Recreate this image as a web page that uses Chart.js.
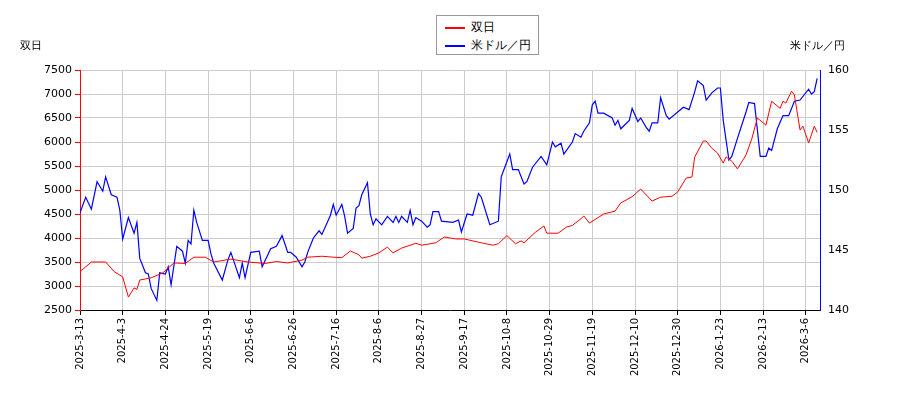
<!DOCTYPE html>
<html><head><meta charset="utf-8">
<script src="https://cdn.jsdelivr.net/npm/chart.js@4"></script>
<style>
body{margin:0;background:#fff;font-family:"DejaVu Sans",sans-serif;}
#wrap{position:relative;width:900px;height:400px;}
.lbl{position:absolute;font-size:11px;color:#000;}
#leg{position:absolute;left:436px;top:15px;width:103px;height:40px;border:1px solid #999;background:#fff;font-size:12px;box-sizing:border-box;}
#leg div{position:absolute;left:8px;height:16px;line-height:16px;}
#leg span{display:inline-block;width:20px;height:2px;vertical-align:middle;margin-right:6px;}
</style></head><body>
<div id="wrap">
<canvas id="c" width="900" height="400"></canvas>
<div class="lbl" style="left:20px;top:38px;">双日</div>
<div class="lbl" style="left:790px;top:38px;">米ドル／円</div>
<div id="leg"><div style="top:3px"><span style="background:#f00"></span>双日</div><div style="top:21px"><span style="background:#00f"></span>米ドル／円</div></div>
</div>
<script>
const tickLabels=["2025-3-13","2025-4-3","2025-4-24","2025-5-19","2025-6-6","2025-6-26","2025-7-16","2025-8-6","2025-8-27","2025-9-17","2025-10-8","2025-10-29","2025-11-19","2025-12-10","2025-12-30","2026-1-23","2026-2-13","2026-3-6"];
const redDay=[0,4,9,12,15,17,19,20,21,25,29,33,37,40,44,47,53,59,65,69,73,78,80,85,89,92,95,98,99,102,105,108,110,113,118,120,125,128,132,135,141,145,147,150,153,155,156,160,163,164,168,171,173,174,176,177,179,184,188,190,194,197,201,204,208,210,213,215,216,219,220,222,224,226,227,229,231,234,236,238,241,243,246,247,248,250,251,253,254,256,258,259];
const redVal=[3300,3500,3500,3300,3190,2770,2960,2930,3125,3170,3270,3480,3470,3600,3600,3500,3560,3500,3470,3510,3480,3540,3600,3620,3600,3590,3730,3650,3580,3620,3690,3810,3690,3790,3890,3850,3900,4020,3980,3980,3900,3850,3880,4050,3880,3940,3900,4120,4250,4100,4100,4230,4260,4310,4400,4460,4310,4500,4560,4730,4860,5020,4770,4850,4870,4960,5250,5270,5690,6020,6020,5870,5770,5560,5690,5600,5440,5730,6060,6500,6350,6850,6700,6850,6810,7060,6980,6250,6330,5980,6330,6200];
const blueDay=[0,2,4,6,8,9,11,13,14,15,17,19,20,21,23,24,25,27,28,30,31,32,34,36,37,38,39,40,41,43,45,46,47,50,52,53,56,57,58,60,63,64,67,69,71,73,74,76,78,79,80,82,84,85,88,89,90,92,93,94,96,97,98,99,101,102,103,104,106,108,110,111,112,113,115,116,117,118,120,122,123,124,126,127,131,133,134,136,138,140,141,144,147,148,151,152,154,156,157,159,162,164,166,167,169,170,173,174,176,177,179,180,181,182,184,187,188,189,190,193,194,196,197,199,200,201,203,204,206,207,210,212,214,216,217,219,220,222,224,225,226,228,229,231,234,235,237,239,241,242,243,245,247,249,251,253,256,257,258,259];
const blueVal=[148.1,149.4,148.4,150.7,149.9,151.1,149.6,149.4,148.3,145.9,147.7,146.4,147.3,144.3,143.1,143,141.8,140.8,143.1,143,143.6,142.1,145.3,144.9,143.9,145.8,145.5,148.3,147.3,145.8,145.8,144.7,143.9,142.5,144.2,144.8,142.7,143.9,142.7,144.8,144.9,143.6,145.1,145.3,146.2,144.8,144.8,144.4,143.6,144,144.8,146,146.6,146.3,147.9,148.8,147.9,148.8,147.8,146.4,146.8,148.5,148.7,149.6,150.6,148,147.1,147.6,147.1,147.8,147.3,147.8,147.3,147.8,147.3,148.3,147.1,147.7,147.4,146.9,147.1,148.2,148.2,147.4,147.3,147.5,146.5,148,147.9,149.7,149.4,147.1,147.4,151.1,153,151.7,151.7,150.5,150.7,151.9,152.8,152.1,154,153.6,153.9,153,154,154.7,154.4,154.9,155.6,157.1,157.4,156.4,156.4,156,155.4,155.8,155.1,155.8,156.8,155.7,156,155.2,154.9,155.6,155.6,157.7,156.2,155.9,156.5,156.9,156.7,158.2,159.1,158.7,157.5,158.1,158.5,158.5,155.8,152.5,152.8,154.3,156.5,157.3,157.2,152.8,152.8,153.5,153.3,155.1,156.2,156.2,157.4,157.5,158.4,158,158.2,159.3];
const pts=(d,v)=>d.map((x,i)=>({x:x,y:v[i]}));
Chart.defaults.font.family='"DejaVu Sans",sans-serif';
Chart.defaults.font.size=11;
Chart.defaults.color='#000';
new Chart(document.getElementById('c'),{
type:'line',
data:{datasets:[
{label:'双日',data:pts(redDay,redVal),borderColor:'#f00',borderWidth:1,pointRadius:0,yAxisID:'y',tension:0},
{label:'米ドル／円',data:pts(blueDay,blueVal),borderColor:'#00f',borderWidth:1.2,pointRadius:0,yAxisID:'y1',tension:0}]},
options:{responsive:false,animation:false,
layout:{padding:{top:70,left:0,right:0,bottom:0}},
plugins:{legend:{display:false},tooltip:{enabled:false}},
scales:{
x:{type:'linear',min:0,max:260,afterFit:s=>{s.height=90;},
 afterBuildTicks:s=>{s.ticks=tickLabels.map((t,i)=>({value:i*15}));},
 ticks:{autoSkip:false,maxRotation:90,minRotation:90,font:{size:10},callback:v=>tickLabels[v/15]},
 grid:{color:'#ccc',tickColor:'#000',tickLength:5},border:{color:'#000'}},
y:{position:'left',min:2500,max:7500,afterFit:s=>{s.width=80;},
 ticks:{stepSize:500,font:{size:11},callback:v=>String(v)},grid:{color:'#ccc',tickColor:'#f00',tickLength:5},border:{color:'#f00',width:1}},
y1:{position:'right',min:140,max:160,afterFit:s=>{s.width=80;},
 ticks:{stepSize:5,font:{size:11},callback:v=>String(v)},grid:{display:false,drawOnChartArea:false,tickColor:'#00f',tickLength:5},border:{color:'#00f',width:1}}
}}});
</script>
</body></html>
